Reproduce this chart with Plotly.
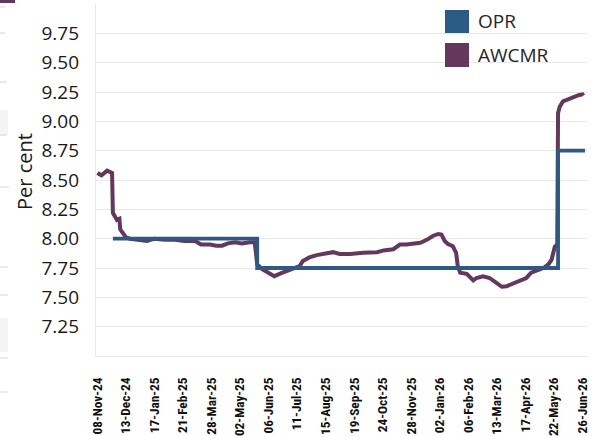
import plotly.graph_objects as go

# ---------------- data ----------------
series_names = ["OPR", "AWCMR"]

opr_dates = ["2024-11-27", "2025-05-23", "2026-05-27", "2026-06-29"]
opr_values = [8.00, 7.75, 8.75, 8.75]

awcmr_dates = [
    "2024-11-08", "2024-11-13", "2024-11-20", "2024-11-26", "2024-11-27", "2024-12-02",
    "2024-12-05", "2024-12-06", "2024-12-10", "2024-12-13", "2024-12-18", "2024-12-30",
    "2025-01-08", "2025-01-17", "2025-01-30", "2025-02-11", "2025-02-23", "2025-03-08",
    "2025-03-15", "2025-03-26", "2025-04-03", "2025-04-10", "2025-04-17", "2025-04-26",
    "2025-05-04", "2025-05-14", "2025-05-20", "2025-05-23", "2025-05-29", "2025-06-03",
    "2025-06-13", "2025-06-23", "2025-07-04", "2025-07-14", "2025-07-18", "2025-07-26",
    "2025-08-04", "2025-08-12", "2025-08-24", "2025-09-01", "2025-09-14", "2025-09-30",
    "2025-10-17", "2025-10-25", "2025-11-06", "2025-11-14", "2025-11-22", "2025-12-09",
    "2025-12-17", "2025-12-25", "2025-12-31", "2026-01-04", "2026-01-08", "2026-01-12",
    "2026-01-18", "2026-01-22", "2026-01-24", "2026-01-27", "2026-02-04", "2026-02-12",
    "2026-02-16", "2026-02-24", "2026-03-04", "2026-03-12", "2026-03-19", "2026-03-25",
    "2026-04-02", "2026-04-10", "2026-04-18", "2026-04-24", "2026-05-01", "2026-05-09",
    "2026-05-15", "2026-05-19", "2026-05-23", "2026-05-26", "2026-05-27", "2026-05-29",
    "2026-06-02", "2026-06-10", "2026-06-18", "2026-06-22", "2026-06-26", "2026-06-27",
]
awcmr_values = [
    8.56, 8.54, 8.58, 8.56, 8.22, 8.16,
    8.17, 8.08, 8.04, 8.01, 8.00, 7.99,
    7.98, 8.00, 7.99, 7.99, 7.98, 7.98,
    7.95, 7.95, 7.94, 7.94, 7.96, 7.97,
    7.96, 7.97, 7.97, 7.78, 7.74, 7.72,
    7.68, 7.71, 7.74, 7.765, 7.81, 7.84,
    7.86, 7.87, 7.885, 7.87, 7.87, 7.88,
    7.885, 7.90, 7.91, 7.95, 7.95, 7.965,
    7.99, 8.025, 8.04, 8.035, 7.98, 7.955,
    7.935, 7.88, 7.765, 7.71, 7.70, 7.645,
    7.665, 7.68, 7.665, 7.625, 7.59, 7.595,
    7.62, 7.64, 7.665, 7.71, 7.73, 7.75,
    7.78, 7.82, 7.93, 7.95, 9.07, 9.125,
    9.17, 9.195, 9.215, 9.225, 9.23, 9.22,
]

x_tick_dates = [
    "2024-11-08", "2024-12-13", "2025-01-17", "2025-02-21", "2025-03-28", "2025-05-02",
    "2025-06-06", "2025-07-11", "2025-08-15", "2025-09-19", "2025-10-24", "2025-11-28",
    "2026-01-02", "2026-02-06", "2026-03-13", "2026-04-17", "2026-05-22", "2026-06-26",
]
x_tick_labels = [
    "08-Nov-24", "13-Dec-24", "17-Jan-25", "21-Feb-25", "28-Mar-25", "02-May-25",
    "06-Jun-25", "11-Jul-25", "15-Aug-25", "19-Sep-25", "24-Oct-25", "28-Nov-25",
    "02-Jan-26", "06-Feb-26", "13-Mar-26", "17-Apr-26", "22-May-26", "26-Jun-26",
]
y_tick_values = [7.00, 7.25, 7.50, 7.75, 8.00, 8.25, 8.50, 8.75, 9.00, 9.25, 9.50, 9.75, 10.00]
y_tick_labels = ["", "7.25", "7.50", "7.75", "8.00", "8.25", "8.50", "8.75",
                 "9.00", "9.25", "9.50", "9.75", ""]
y_title = "Per cent"

# ---------------- style ----------------
W, H = 595, 436
ML, MR, MT, MB = 96, 8, 4, 80
BLUE = "#2C5A87"
PURPLE = "#65375C"
GRID = "#E9E9E9"
colors = {"OPR": BLUE, "AWCMR": PURPLE}

pw = W - ML - MR
ph = H - MT - MB


def px(x):
    return (x - ML) / pw


def py(y):
    return (H - MB - y) / ph


fig = go.Figure()
fig.add_trace(go.Scatter(
    x=awcmr_dates, y=awcmr_values, name=series_names[1], mode="lines",
    line=dict(color=PURPLE, width=4), hoverinfo="x+y",
))
fig.add_trace(go.Scatter(
    x=opr_dates, y=opr_values, name=series_names[0], mode="lines",
    line=dict(color=BLUE, width=3.8, shape="hv"), hoverinfo="x+y",
))

shapes = []
annotations = []

# manual legend (square swatches)
leg = [(series_names[0], 10, 33), (series_names[1], 43, 67)]
for name, y0, y1 in leg:
    shapes.append(dict(type="rect", xref="paper", yref="paper",
                       x0=px(445), x1=px(469), y0=py(y1), y1=py(y0),
                       fillcolor=colors[name], line=dict(width=0)))
    annotations.append(dict(text=name, xref="paper", yref="paper",
                            x=px(476), y=py((y0 + y1) / 2), xanchor="left", yanchor="middle",
                            showarrow=False,
                            font=dict(family="Open Sans, Noto Sans, sans-serif", size=19,
                                      color="#262626")))

# y axis title
annotations.append(dict(text=y_title, xref="paper", yref="paper",
                        x=px(24), y=py(172), xanchor="center", yanchor="middle",
                        textangle=-90, showarrow=False,
                        font=dict(family="Open Sans, Noto Sans, sans-serif", size=20,
                                  color="#1a1a1a")))

# fragments of the neighbouring panel visible at the left edge
shapes.append(dict(type="rect", xref="paper", yref="paper", x0=px(0), x1=px(15),
                   y0=py(3), y1=py(-1), fillcolor=PURPLE, line=dict(width=0)))
for (ya, yb) in [(110, 135), (318, 352)]:
    shapes.append(dict(type="rect", xref="paper", yref="paper", x0=px(0), x1=px(8),
                       y0=py(yb), y1=py(ya), fillcolor="#F4F4F4", line=dict(width=0)))
for (yy, xe) in [(7, 5), (33, 5), (82, 7), (135, 7), (187, 9), (267, 8), (295, 8), (358, 8), (392, 8)]:
    shapes.append(dict(type="line", xref="paper", yref="paper", x0=px(0), x1=px(xe),
                       y0=py(yy), y1=py(yy), line=dict(color="#D6D6D6", width=1)))

fig.update_layout(
    width=W, height=H,
    margin=dict(l=ML, r=MR, t=MT, b=MB, autoexpand=False),
    paper_bgcolor="white", plot_bgcolor="white",
    showlegend=False,
    shapes=shapes, annotations=annotations,
    xaxis=dict(
        type="date",
        range=["2024-11-06 07:00", "2026-07-01 12:00"],
        tickmode="array", tickvals=x_tick_dates, ticktext=x_tick_labels,
        tickangle=-90, showgrid=False, zeroline=False,
        showline=True, linecolor=GRID, linewidth=1.3,
        ticks="", ticklabelstandoff=15,
        tickfont=dict(family="Liberation Sans Narrow, Roboto Condensed, Arial Narrow, Roboto, sans-serif",
                      size=13.3, color="#111111", weight="bold"),
    ),
    yaxis=dict(
        range=[7.0, 10.0],
        tickmode="array", tickvals=y_tick_values, ticktext=y_tick_labels,
        showgrid=True, gridcolor=GRID, gridwidth=1.3, zeroline=False,
        showline=True, linecolor=GRID, linewidth=1.3,
        ticks="", ticklabelstandoff=12,
        tickfont=dict(family="Open Sans, Noto Sans, sans-serif", size=19, color="#1a1a1a"),
    ),
)

fig.write_html(
    "out.html",
    config={"displayModeBar": False},
    post_script="document.body.style.margin='0px'; document.body.style.overflow='hidden';",
)
